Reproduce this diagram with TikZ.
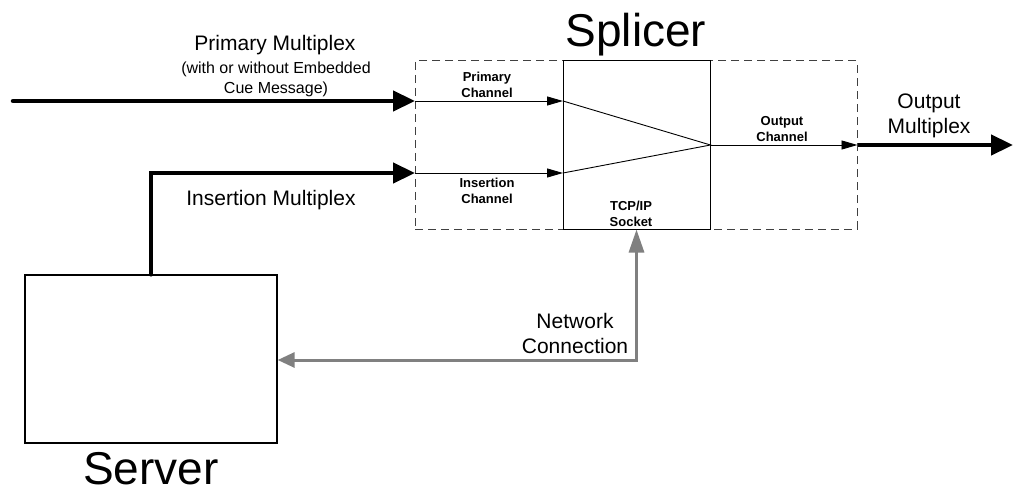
\documentclass[tikz,border=0pt]{standalone}
\usepackage{fontspec}
\setmainfont{Liberation Sans}
\usetikzlibrary{arrows.meta,positioning}

\tikzset{
	bigtext/.style={font=\fontsize{46}{50}\selectfont, inner sep=0},
	midtext/.style={font=\fontsize{21}{25}\selectfont, align=center, inner sep=0},
	smalltext/.style={font=\fontsize{16}{20}\selectfont, align=center, inner sep=0},
	chantext/.style={font=\bfseries\fontsize{13}{16}\selectfont, align=center, inner sep=0},
	thinarrow/.style={line width=0.9pt, -{Triangle[length=16pt,width=9pt]}},
	fatarrow/.style={line width=4.5pt, -{Triangle[length=22pt,width=20pt]}},
	netarrow/.style={line width=3pt, gray, {Triangle[length=17pt,width=15pt]}-{Triangle[length=23pt,width=15pt]}}
}

\begin{document}
\begin{tikzpicture}[x=1pt,y=-1pt]
	\useasboundingbox (0,0) rectangle (1014,492);

	% boxes
	\node[draw, black!75, line width=1pt, dash pattern=on 8pt off 5pt, minimum width=442pt, minimum height=168pt] (splicer) at (636,145) {};
	\node[draw, line width=1pt, minimum width=147pt, minimum height=168pt] (core) at (636.5,145) {};
	\node[draw, line width=1.3pt, minimum width=252pt, minimum height=168pt] (server) at (151,359) {};
	\node[bigtext, anchor=base] (splicerlbl) at (636,47) {Splicer};
	\node[bigtext, anchor=base] (serverlbl) at (151,484) {Server};

	% points on the splicer
	\coordinate (pmstart) at (13,101);
	\coordinate (pin) at (415,101);
	\coordinate (pcore) at (563,101);
	\coordinate (iin) at (415,173);
	\coordinate (icore) at (563,173);
	\coordinate (outend) at (1013,145);

	% multiplex arrows
	\draw[fatarrow, line cap=round] (pmstart) -- (pin);
	\draw[fatarrow, line cap=round] (server.north) -- (server.north |- iin) -- (iin);
	\draw[fatarrow] (splicer.east) -- (outend);

	% channels
	\draw[thinarrow] (pin) -- (pcore);
	\draw[thinarrow] (iin) -- (icore);
	\draw[thinarrow] (core.east) -- (splicer.east);
	\draw[line width=0.9pt] (pcore) -- (core.east) -- (icore);

	% network
	\draw[netarrow] (server.east |- 0,360) -| (core.south);

	% labels
	\node[midtext] (pmlbl) at (275,45) {Primary Multiplex};
	\node[smalltext] (pmnote) at (276,79) {(with or without Embedded\\Cue Message)};
	\node[midtext] (imlbl) at (271,200) {Insertion Multiplex};
	\node[midtext] (omlbl) at (929,116) {Output\\Multiplex};
	\node[midtext] (netlbl) at (575,333) {Network\\Connection};
	\node[chantext] (pclbl) at (487,85) {Primary\\Channel};
	\node[chantext] (iclbl) at (487,191) {Insertion\\Channel};
	\node[chantext] (tcplbl) at (631,214) {TCP/IP\\Socket};
	\node[chantext] (oclbl) at (782,129.5) {Output\\Channel};
\end{tikzpicture}
\end{document}
